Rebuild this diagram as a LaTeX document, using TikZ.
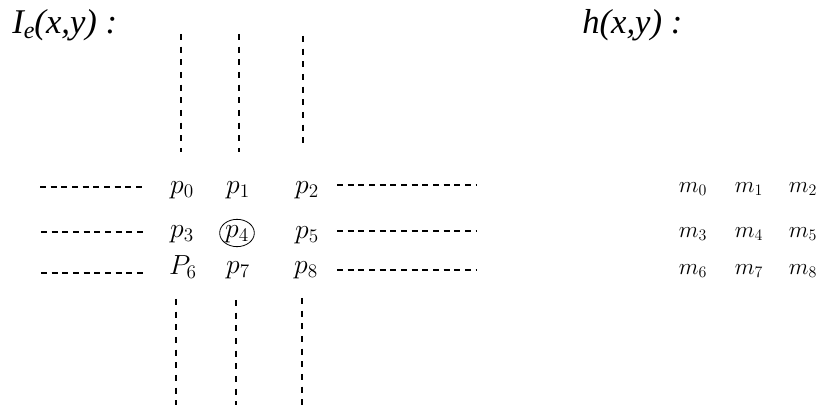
\documentclass[tikz,border=0pt]{standalone}
\usepackage{fontspec}
\newfontfamily\timesfont{Liberation Serif}
\usetikzlibrary{shapes.geometric}
\begin{document}
\begin{tikzpicture}[x=0.75pt,y=-0.75pt,
  title/.style={font=\timesfont\itshape\fontsize{26}{28}\selectfont,inner sep=0pt,anchor=west},
  pix/.style={font=\fontsize{20}{22}\selectfont,inner sep=0pt},
  mask/.style={font=\fontsize{18}{20}\selectfont,inner sep=0pt},
  hline/.style={line width=0.8pt,dash pattern=on 4.5pt off 3.5pt},
  vline/.style={line width=0.8pt,dash pattern=on 4.5pt off 5pt}]
\useasboundingbox (0,0) rectangle (826,409);

% titles
\node[title] (ttlI) at (12,25) {I\raisebox{-0.35ex}{\fontsize{18}{19}\selectfont e}(x,y) :};
\node[title] (ttlh) at (582,25) {h(x,y) :};

% image neighbourhood p0..p8
\node[pix] (p0) at (182,190) {$p_0$};
\node[pix] (p1) at (238,190) {$p_1$};
\node[pix] (p2) at (307,190) {$p_2$};
\node[pix] (p3) at (182,234) {$p_3$};
\node[pix] (p4) at (237,234) {$p_4$};
\node[pix] (p5) at (307,235) {$p_5$};
\node[pix] (p6) at (183,267) {$P_6$};
\node[pix] (p7) at (238,270) {$p_7$};
\node[pix] (p8) at (306,270) {$p_8$};
\node[draw,ellipse,line width=0.6pt,minimum width=26pt,minimum height=20.5pt,inner sep=0pt] (ring) at (237,233) {};

% mask coefficients m0..m8
\node[mask] (m0) at (693,189) {$m_0$};
\node[mask] (m1) at (749,189) {$m_1$};
\node[mask] (m2) at (803,189) {$m_2$};
\node[mask] (m3) at (693,234) {$m_3$};
\node[mask] (m4) at (749,234) {$m_4$};
\node[mask] (m5) at (803,234) {$m_5$};
\node[mask] (m6) at (693,271) {$m_6$};
\node[mask] (m7) at (749,271) {$m_7$};
\node[mask] (m8) at (803,271) {$m_8$};

% end points of the dashed continuations
\coordinate (ta) at (181,34);  \coordinate (tb) at (181,152);
\coordinate (tc) at (239,34);  \coordinate (td) at (239,152);
\coordinate (te) at (303,36);  \coordinate (tf) at (303,150);
\coordinate (ba) at (176,299); \coordinate (bb) at (176,405);
\coordinate (bc) at (236,300); \coordinate (bd) at (236,405);
\coordinate (be) at (302,298); \coordinate (bf) at (302,405);
\coordinate (la1) at (40,187);  \coordinate (lb1) at (144,187);
\coordinate (la2) at (41,232);  \coordinate (lb2) at (146,232);
\coordinate (la3) at (41,273);  \coordinate (lb3) at (146,273);
\coordinate (ra1) at (337,185); \coordinate (rb1) at (477,185);
\coordinate (ra2) at (337,231); \coordinate (rb2) at (477,231);
\coordinate (ra3) at (337,270); \coordinate (rb3) at (477,270);

\draw[vline] (ta) -- (tb);
\draw[vline] (tc) -- (td);
\draw[vline] (te) -- (tf);
\draw[vline] (ba) -- (bb);
\draw[vline] (bc) -- (bd);
\draw[vline] (be) -- (bf);
\draw[hline] (la1) -- (lb1);
\draw[hline] (la2) -- (lb2);
\draw[hline] (la3) -- (lb3);
\draw[hline] (ra1) -- (rb1);
\draw[hline] (ra2) -- (rb2);
\draw[hline] (ra3) -- (rb3);
\end{tikzpicture}
\end{document}
